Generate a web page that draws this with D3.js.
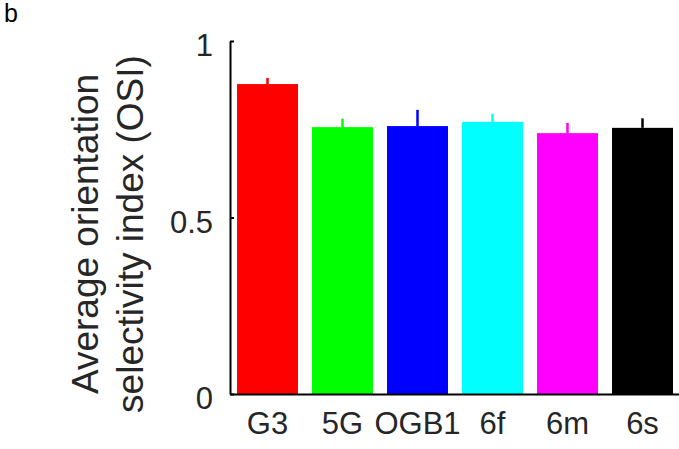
<!DOCTYPE html>
<html>
<head>
<meta charset="utf-8">
<script src="https://cdn.jsdelivr.net/npm/d3@7"></script>
<style>
  body { margin: 0; background: #fff; }
  svg { display: block; font-family: "Liberation Sans", Arial, sans-serif; }
  .axis path, .axis line { stroke: #000; stroke-width: 2px; }
  .axis text { fill: #262626; font-size: 31px; }
  .axis-title { fill: #262626; font-size: 37px; }
</style>
</head>
<body>
<svg id="chart"></svg>
<script>
// Values
const categories = ['G3', '5G', 'OGB1', '6f', '6m', '6s'];
const osiMean = [0.878, 0.756, 0.759, 0.771, 0.739, 0.754];
const osiError = [0.017, 0.024, 0.046, 0.023, 0.029, 0.027];
const yTicks = [0, 0.5, 1];

class BarChart {

  constructor(_config, _data) {
    this.config = {
      parentElement: _config.parentElement,
      containerWidth: _config.containerWidth || 679,
      containerHeight: _config.containerHeight || 449,
      margin: _config.margin || {top: 41, right: -1, bottom: 55, left: 230}
    }
    this.data = _data;
    this.initVis();
  }

  initVis() {
    let vis = this;

    vis.width = vis.config.containerWidth - vis.config.margin.left - vis.config.margin.right;
    vis.height = vis.config.containerHeight - vis.config.margin.top - vis.config.margin.bottom;

    vis.xScale = d3.scaleBand()
        .domain(categories)
        .range([0, vis.width])
        .paddingInner(0.187)
        .paddingOuter(0.0935);

    vis.yScale = d3.scaleLinear()
        .domain([0, 1])
        .range([vis.height, 0]);

    vis.colorScale = d3.scaleOrdinal()
        .domain(categories)
        .range(['#ff0000', '#00ff00', '#0000ff', '#00ffff', '#ff00ff', '#000000']);

    vis.xAxis = d3.axisBottom(vis.xScale)
        .tickSize(0)
        .tickSizeOuter(0)
        .tickPadding(18);

    vis.yAxis = d3.axisLeft(vis.yScale)
        .tickValues(yTicks)
        .tickFormat(d3.format('~g'))
        .tickSize(-4)
        .tickSizeOuter(0)
        .tickPadding(17);

    vis.svg = d3.select(vis.config.parentElement)
        .attr('width', vis.config.containerWidth)
        .attr('height', vis.config.containerHeight);

    vis.chart = vis.svg.append('g')
        .attr('transform', `translate(${vis.config.margin.left},${vis.config.margin.top})`);

    // panel letter
    vis.svg.append('text')
        .attr('x', 4)
        .attr('y', 22)
        .style('font-size', '25px')
        .attr('fill', '#000')
        .text('b');

    // two-line y axis title
    const title = vis.svg.append('text')
        .attr('class', 'axis-title')
        .attr('transform', 'translate(98,234) rotate(-90)')
        .style('text-anchor', 'middle');
    title.append('tspan').attr('x', 0).attr('y', 0).text('Average orientation');
    title.append('tspan').attr('x', 0).attr('y', 45).text('selectivity index (OSI)');

    vis.renderVis();
  }

  renderVis() {
    let vis = this;

    vis.chart.selectAll('.bar')
        .data(vis.data, d => d.label)
        .join('rect')
        .attr('class', 'bar')
        .attr('x', d => vis.xScale(d.label))
        .attr('width', vis.xScale.bandwidth())
        .attr('y', d => vis.yScale(d.mean))
        .attr('height', d => vis.height - vis.yScale(d.mean))
        .attr('fill', d => vis.colorScale(d.label));

    // upper error bars only
    vis.chart.selectAll('.err')
        .data(vis.data, d => d.label)
        .join('line')
        .attr('class', 'err')
        .attr('x1', d => vis.xScale(d.label) + vis.xScale.bandwidth() / 2)
        .attr('x2', d => vis.xScale(d.label) + vis.xScale.bandwidth() / 2)
        .attr('y1', d => vis.yScale(d.mean))
        .attr('y2', d => vis.yScale(d.mean + d.err))
        .attr('stroke', d => vis.colorScale(d.label))
        .attr('stroke-width', 2.5);

    vis.chart.append('g')
        .attr('class', 'axis y-axis')
        .call(vis.yAxis)
        .selectAll('text')
        .attr('dy', '0.47em');

    vis.chart.append('g')
        .attr('class', 'axis x-axis')
        .attr('transform', `translate(0,${vis.height})`)
        .call(vis.xAxis);
  }
}

const data = categories.map((c, i) => ({label: c, mean: osiMean[i], err: osiError[i]}));
new BarChart({parentElement: '#chart'}, data);
</script>
</body>
</html>
